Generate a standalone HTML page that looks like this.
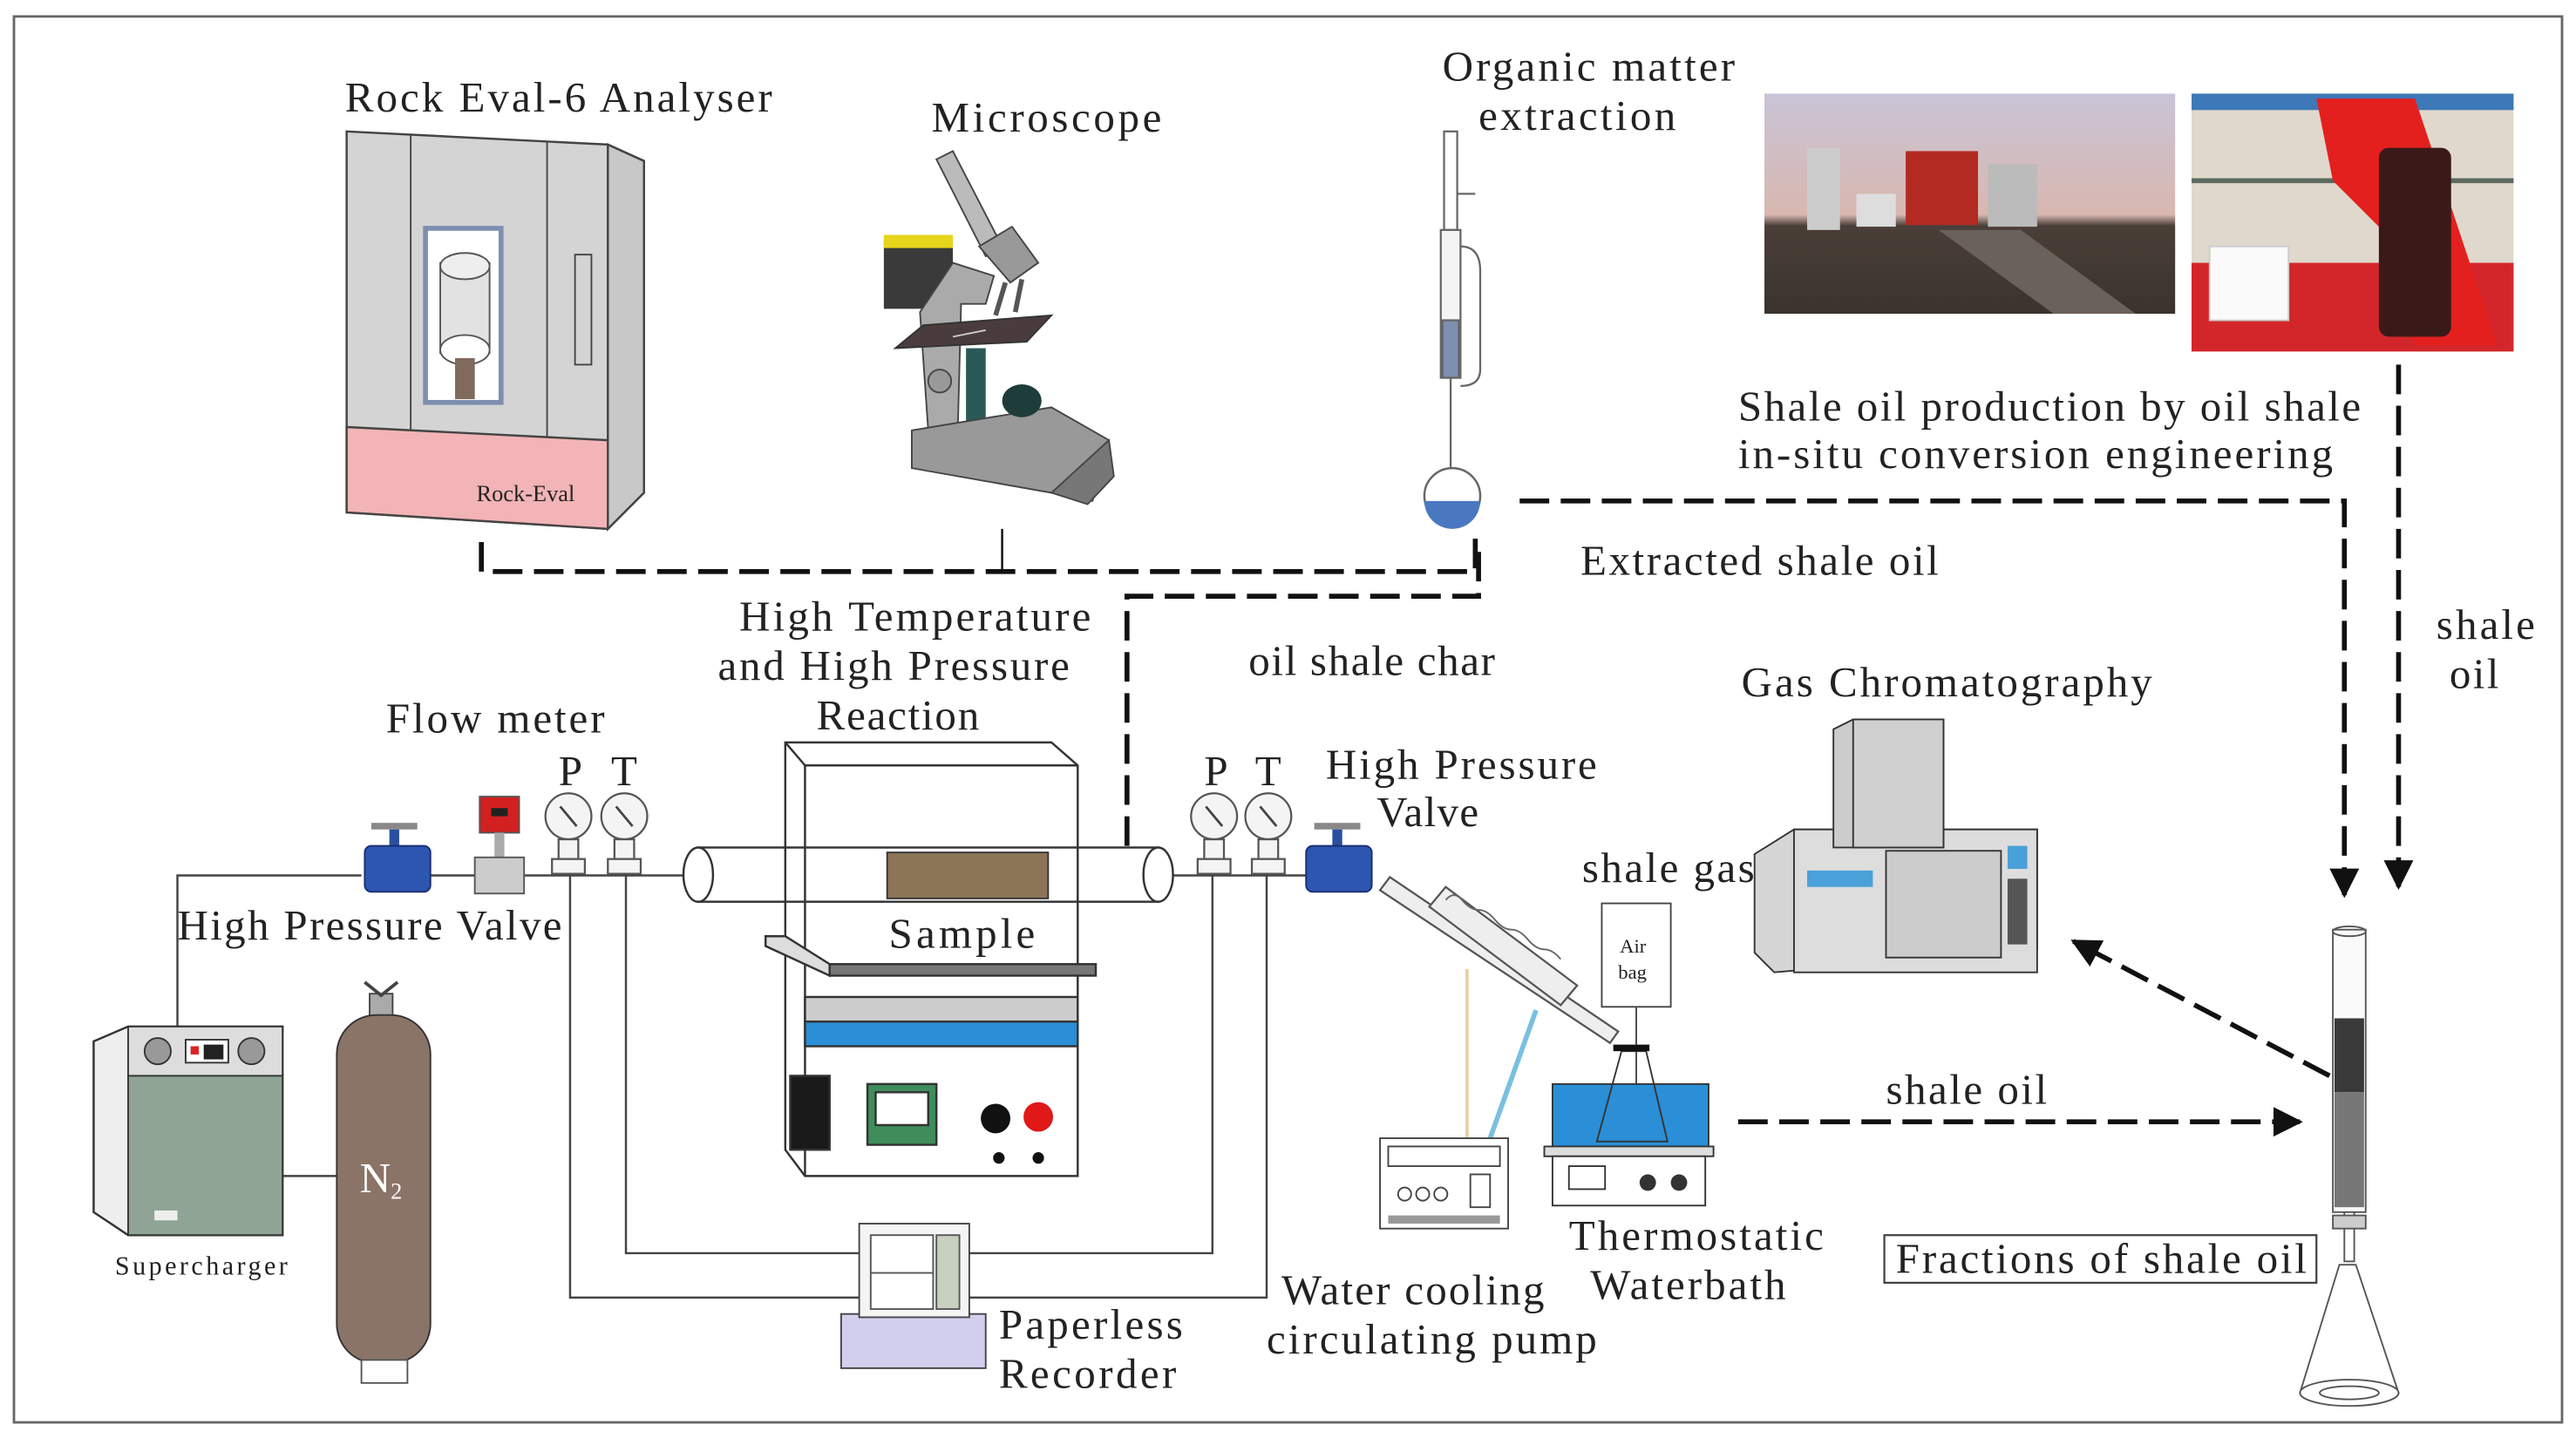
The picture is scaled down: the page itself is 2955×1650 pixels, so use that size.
<!DOCTYPE html>
<html><head><meta charset="utf-8"><style>
html,body{margin:0;padding:0;background:#fff;}
svg{display:block;}
text{font-family:"Liberation Serif",serif;fill:#222;}
</style></head><body>
<svg width="2955" height="1650" viewBox="0 0 1568 875.5" xmlns="http://www.w3.org/2000/svg">
<defs>
<marker id="ah" viewBox="0 0 10 10" refX="9" refY="5" markerWidth="6" markerHeight="6" orient="auto" markerUnits="strokeWidth"><path d="M0,0 L10,5 L0,10 z" fill="#111"/></marker>
<linearGradient id="sky" x1="0" y1="0" x2="0" y2="1"><stop offset="0" stop-color="#c9c4d6"/><stop offset="0.55" stop-color="#d8b7b0"/><stop offset="0.6" stop-color="#4a3f38"/><stop offset="1" stop-color="#3a332c"/></linearGradient>
</defs>
<rect x="0" y="0" width="1568" height="875.5" fill="#fff"/>
<rect x="8.5" y="10" width="1551" height="856" fill="none" stroke="#666" stroke-width="1.5"/>

<!-- Rock Eval -->
<polygon points="211,80 370,88 392,98 392,300 370,322 211,312" fill="#d4d4d4" stroke="#444" stroke-width="1.3"/>
<polygon points="370,88 392,98 392,300 370,322" fill="#c8c8c8" stroke="#444" stroke-width="1.3"/>
<line x1="250" y1="82" x2="250" y2="262" stroke="#444"/>
<line x1="333" y1="86" x2="333" y2="266" stroke="#444"/>
<polygon points="211,260 370,268 370,322 211,312" fill="#f2b4b6" stroke="#444" stroke-width="1.3"/>
<rect x="259" y="139" width="46" height="106" fill="#fff" stroke="#7d8fb0" stroke-width="3"/>
<rect x="268" y="160" width="30" height="55" fill="#e2e2e2" stroke="#555"/>
<ellipse cx="283" cy="162" rx="15" ry="8" fill="#eee" stroke="#555"/>
<ellipse cx="283" cy="213" rx="15" ry="9" fill="#fff" stroke="#555"/>
<rect x="277" y="218" width="12" height="25" fill="#806a5c"/>
<rect x="350" y="155" width="10" height="67" fill="none" stroke="#444"/>
<text x="290" y="305" font-size="14">Rock-Eval</text>

<!-- Microscope -->
<rect x="538" y="146" width="42" height="42" fill="#3a3a3a"/>
<rect x="538" y="143" width="42" height="8" fill="#e6d51a"/>
<polygon points="570,97 580,92 610,150 600,156" fill="#bbb" stroke="#444"/>
<polygon points="596,150 616,138 632,160 615,172" fill="#999" stroke="#444"/>
<path d="M580,160 L605,168 L600,185 L585,185 L583,262 L565,262 L560,190 Z" fill="#aaa" stroke="#444"/>
<line x1="612" y1="172" x2="606" y2="192" stroke="#555" stroke-width="3"/>
<line x1="622" y1="170" x2="618" y2="190" stroke="#555" stroke-width="3"/>
<polygon points="562,198 640,192 625,208 545,212" fill="#4a3c3c" stroke="#333"/>
<line x1="580" y1="205" x2="600" y2="201" stroke="#ccc"/>
<rect x="588" y="212" width="12" height="46" fill="#2a5a55"/>
<circle cx="572" cy="232" r="7" fill="#999" stroke="#444"/>
<polygon points="555,262 640,248 675,268 665,305 640,300 555,285" fill="#999" stroke="#444"/>
<polygon points="640,300 675,268 678,290 662,307" fill="#777" stroke="#444"/>
<ellipse cx="622" cy="244" rx="12" ry="10" fill="#1e3d3a"/>

<!-- extraction apparatus -->
<g stroke="#666" fill="none" stroke-width="1.2">
<rect x="879" y="80" width="8" height="60"/>
<line x1="887" y1="118" x2="898" y2="118"/>
<rect x="877" y="140" width="12" height="90" fill="#f4f4f4"/>
<path d="M889,150 q12,0 12,15 v60 q0,10 -12,10"/>
<rect x="878" y="195" width="10" height="35" fill="#7e8fb0"/>
<line x1="883" y1="230" x2="883" y2="285"/>
</g>
<circle cx="884" cy="302" r="17" fill="#fff" stroke="#666" stroke-width="1.3"/>
<path d="M867,305 A17,17 0 0 0 901,305 Z" fill="#4a78c0"/>

<!-- photos -->
<rect x="1074" y="57" width="250" height="134" fill="url(#sky)"/>
<rect x="1160" y="92" width="44" height="45" fill="#b32a22"/>
<rect x="1100" y="90" width="20" height="50" fill="#ccc"/>
<rect x="1130" y="118" width="24" height="20" fill="#ddd"/>
<rect x="1210" y="100" width="30" height="38" fill="#bbb"/>
<polygon points="1180,140 1230,140 1300,191 1250,191" fill="#6a625a"/>
<rect x="1334" y="57" width="196" height="157" fill="#e0d8cc"/>
<rect x="1334" y="57" width="196" height="10" fill="#3d78b8"/>
<rect x="1334" y="160" width="196" height="54" fill="#d3262a"/>
<line x1="1334" y1="110" x2="1530" y2="110" stroke="#5c6a60" stroke-width="3"/>
<path d="M1410,60 L1470,60 L1500,150 L1520,210 L1470,210 L1460,150 L1420,110 Z" fill="#e4201e"/>
<rect x="1448" y="90" width="44" height="115" rx="6" fill="#3a1a18"/>
<rect x="1345" y="150" width="48" height="45" fill="#fafafa" stroke="#ccc"/>

<!-- dashed connectors -->
<g stroke="#111" stroke-width="3" fill="none" stroke-dasharray="18,7">
<polyline points="293,330 293,348 898,348 898,325"/>
<polyline points="686,515 686,363 900,363 900,333"/>
<polyline points="925,305 1427,305 1427,545" marker-end="url(#ah)"/>
<polyline points="1460,222 1460,540" marker-end="url(#ah)"/>
<line x1="1418" y1="655" x2="1262" y2="573" marker-end="url(#ah)"/>
<line x1="1058" y1="683" x2="1400" y2="683" marker-end="url(#ah)"/>
</g>
<line x1="610" y1="322" x2="610" y2="348" stroke="#111" stroke-width="1.3"/>

<!-- pipes thin lines -->
<g stroke="#444" stroke-width="1.3" fill="none">
<polyline points="108,625 108,533 220,533"/>
<line x1="262" y1="533" x2="290" y2="533"/>
<line x1="318" y1="533" x2="420" y2="533"/>
<line x1="712" y1="533" x2="800" y2="533"/>
<polyline points="347,533 347,790 525,790"/>
<polyline points="381,533 381,763 525,763"/>
<polyline points="738,533 738,763 590,763"/>
<polyline points="771,533 771,790 590,790"/>
<line x1="172" y1="716" x2="205" y2="716"/>
</g>

<!-- furnace -->
<g stroke="#333" stroke-width="1.3">
<polygon points="478,452 640,452 656,466 656,716 490,716 478,700" fill="#fff"/>
<line x1="478" y1="452" x2="490" y2="466"/>
<line x1="490" y1="466" x2="656" y2="466"/>
<line x1="490" y1="466" x2="490" y2="716"/>
<polygon points="466,570 478,570 505,587 505,594 466,576" fill="#ddd"/>
<rect x="505" y="587" width="162" height="7" fill="#777"/>
<rect x="490" y="607" width="166" height="15" fill="#ccc"/>
<rect x="490" y="622" width="166" height="15" fill="#2a8fd6"/>
<rect x="481" y="655" width="24" height="45" fill="#1a1a1a"/>
<rect x="528" y="660" width="42" height="37" fill="#3f8d5a"/>
<rect x="533" y="665" width="32" height="20" fill="#fff"/>
</g>
<circle cx="606" cy="681" r="9" fill="#111"/>
<circle cx="632" cy="680" r="9" fill="#e01818"/>
<circle cx="608" cy="705" r="3.5" fill="#111"/>
<circle cx="632" cy="705" r="3.5" fill="#111"/>
<!-- tube -->
<rect x="425" y="516" width="280" height="33" fill="none" stroke="#333" stroke-width="1.3"/>
<ellipse cx="425" cy="532.5" rx="9" ry="16.5" fill="#fff" stroke="#333" stroke-width="1.3"/>
<ellipse cx="705" cy="532.5" rx="9" ry="16.5" fill="#fff" stroke="#333" stroke-width="1.3"/>
<rect x="540" y="519" width="98" height="28" fill="#8c7556" stroke="#333"/>

<!-- valves -->
<g>
<rect x="226" y="501" width="28" height="4" fill="#888"/>
<rect x="237" y="505" width="6" height="10" fill="#2a4fa0"/>
<rect x="222" y="515" width="40" height="28" rx="4" fill="#2c56b0" stroke="#1a2e70"/>
<rect x="800" y="501" width="28" height="4" fill="#888"/>
<rect x="811" y="505" width="6" height="10" fill="#2a4fa0"/>
<rect x="795" y="515" width="40" height="28" rx="4" fill="#2c56b0" stroke="#1a2e70"/>
<rect x="292" y="485" width="24" height="22" fill="#d32020" stroke="#555"/>
<rect x="299" y="492" width="10" height="5" fill="#222"/>
<rect x="301" y="507" width="6" height="15" fill="#aaa"/>
<rect x="289" y="522" width="30" height="22" fill="#ccc" stroke="#555"/>
</g>
<!-- gauges -->
<g stroke="#555" stroke-width="1.2" fill="#f4f4f4">
<circle cx="346" cy="497" r="14"/><circle cx="380" cy="497" r="14"/>
<circle cx="739" cy="497" r="14"/><circle cx="772" cy="497" r="14"/>
<rect x="340" y="511" width="12" height="12"/><rect x="374" y="511" width="12" height="12"/>
<rect x="733" y="511" width="12" height="12"/><rect x="766" y="511" width="12" height="12"/>
<rect x="336" y="523" width="20" height="9"/><rect x="370" y="523" width="20" height="9"/>
<rect x="729" y="523" width="20" height="9"/><rect x="762" y="523" width="20" height="9"/>
</g>
<g stroke="#444" stroke-width="1.5"><line x1="341" y1="491" x2="351" y2="503"/><line x1="375" y1="491" x2="385" y2="503"/><line x1="734" y1="491" x2="744" y2="503"/><line x1="767" y1="491" x2="777" y2="503"/></g>

<!-- supercharger -->
<polygon points="57,634 78,625 172,625 172,752 78,752 57,738" fill="#eee" stroke="#333" stroke-width="1.3"/>
<rect x="78" y="625" width="94" height="30" fill="#ddd" stroke="#333"/>
<rect x="78" y="655" width="94" height="97" fill="#8fa494" stroke="#333"/>
<circle cx="96" cy="640" r="8" fill="#999" stroke="#333"/>
<circle cx="153" cy="640" r="8" fill="#999" stroke="#333"/>
<rect x="113" y="633" width="26" height="14" fill="#fff" stroke="#333"/>
<rect x="116" y="637" width="5" height="5" fill="#d22"/>
<rect x="124" y="636" width="12" height="9" fill="#222"/>
<rect x="94" y="737" width="14" height="6" fill="#eee"/>
<!-- N2 cylinder -->
<rect x="225" y="605" width="14" height="14" fill="#aaa" stroke="#444"/>
<path d="M222,598 l10,8 l10,-8" fill="none" stroke="#444" stroke-width="2"/>
<rect x="205" y="618" width="57" height="212" rx="24" fill="#8a7468" stroke="#333"/>
<rect x="220" y="828" width="28" height="14" fill="#fff" stroke="#555"/>
<text x="219" y="726" font-size="26" style="fill:#fff">N<tspan font-size="14" dy="4">2</tspan></text>

<!-- recorder -->
<rect x="512" y="800" width="88" height="33" fill="#d2cfee" stroke="#444"/>
<rect x="523" y="745" width="67" height="57" fill="#f4f4f4" stroke="#444"/>
<rect x="530" y="752" width="38" height="45" fill="#fff" stroke="#555"/>
<rect x="570" y="752" width="14" height="45" fill="#c8d0c0" stroke="#555"/>
<line x1="530" y1="775" x2="568" y2="775" stroke="#555"/>

<!-- condenser -->
<g stroke="#555" stroke-width="1.2" fill="#eee">
<polygon points="840,542 846,534 985,628 980,635"/>
<polygon points="870,552 880,540 960,600 950,612"/>
</g>
<path d="M880,548 q5,-6 10,0 t10,6 t10,6 t10,6 t10,6 t10,6 t10,6" fill="none" stroke="#666"/>
<line x1="893" y1="590" x2="893" y2="693" stroke="#e4d2a8" stroke-width="2"/>
<line x1="935" y1="615" x2="907" y2="693" stroke="#7ac0e0" stroke-width="3"/>
<rect x="975" y="550" width="42" height="63" fill="#fff" stroke="#444"/>
<text x="986" y="580" font-size="12">Air</text><text x="985" y="596" font-size="12">bag</text>
<line x1="996" y1="613" x2="996" y2="695" stroke="#444"/>
<!-- waterbath -->
<rect x="945" y="660" width="95" height="38" fill="#2a8fd6" stroke="#333"/>
<path d="M987,640 L1002,640 L1015,695 L972,695 Z" fill="none" stroke="#333"/>
<rect x="982" y="636" width="22" height="4" fill="#111"/>
<rect x="940" y="698" width="103" height="6" fill="#ddd" stroke="#333"/>
<rect x="945" y="704" width="93" height="30" fill="#fff" stroke="#333"/>
<rect x="955" y="710" width="22" height="14" fill="#fff" stroke="#333"/>
<circle cx="1003" cy="720" r="5" fill="#333"/><circle cx="1022" cy="720" r="5" fill="#333"/>
<!-- pump -->
<rect x="840" y="693" width="78" height="55" fill="#fff" stroke="#444"/>
<rect x="845" y="698" width="68" height="12" fill="none" stroke="#444"/>
<circle cx="855" cy="727" r="4" fill="none" stroke="#444"/><circle cx="866" cy="727" r="4" fill="none" stroke="#444"/><circle cx="877" cy="727" r="4" fill="none" stroke="#444"/>
<rect x="895" y="715" width="12" height="20" fill="none" stroke="#444"/>
<rect x="845" y="740" width="68" height="5" fill="#999"/>

<!-- GC -->
<polygon points="1068,520 1092,505 1240,505 1240,578 1080,592 1068,580" fill="#d6d6d6" stroke="#333"/>
<rect x="1092" y="505" width="148" height="87" fill="#ddd" stroke="#333"/>
<rect x="1148" y="518" width="70" height="65" fill="#ccc" stroke="#333"/>
<rect x="1100" y="530" width="40" height="10" fill="#4aa0d8"/>
<rect x="1222" y="515" width="12" height="14" fill="#4aa0d8"/>
<rect x="1222" y="535" width="12" height="40" fill="#555"/>
<polygon points="1116,444 1128,438 1183,438 1183,516 1116,516" fill="#ccc" stroke="#333"/>
<rect x="1128" y="438" width="55" height="78" fill="#d0d0d0" stroke="#333"/>

<!-- column -->
<rect x="1420" y="566" width="20" height="172" fill="#fafafa" stroke="#555"/>
<ellipse cx="1430" cy="567" rx="10" ry="3" fill="none" stroke="#555"/>
<rect x="1421" y="620" width="18" height="45" fill="#3a3a3a"/>
<rect x="1421" y="665" width="18" height="70" fill="#777"/>
<rect x="1427" y="738" width="6" height="30" fill="#fff" stroke="#555"/>
<rect x="1420" y="740" width="20" height="8" fill="#ccc" stroke="#555"/>
<path d="M1424,770 L1434,770 L1460,848 L1400,848 Z" fill="#fff" stroke="#555"/>
<ellipse cx="1430" cy="848" rx="30" ry="8" fill="#fff" stroke="#555"/>
<ellipse cx="1430" cy="848" rx="18" ry="4" fill="none" stroke="#555"/>
<rect x="1147" y="752" width="263" height="29" fill="none" stroke="#444" stroke-width="1.2"/>

<!-- labels -->
<g font-size="26" lengthAdjust="spacingAndGlyphs">
<text x="210" y="68" textLength="260">Rock Eval-6 Analyser</text>
<text x="567" y="80" textLength="140">Microscope</text>
<text x="878" y="49" textLength="178">Organic matter</text>
<text x="900" y="79" textLength="120">extraction</text>
<text x="1058" y="256" textLength="379">Shale oil production by oil shale</text>
<text x="1058" y="285" textLength="362">in-situ conversion engineering</text>
<text x="962" y="350" textLength="218">Extracted shale oil</text>
<text x="1483" y="389" textLength="60">shale</text>
<text x="1491" y="419" textLength="30">oil</text>
<text x="1060" y="424" textLength="250">Gas Chromatography</text>
<text x="760" y="411" textLength="150">oil shale char</text>
<text x="450" y="384" textLength="214">High Temperature</text>
<text x="437" y="414" textLength="214">and High Pressure</text>
<text x="497" y="444" textLength="99">Reaction</text>
<text x="235" y="446" textLength="133">Flow meter</text>
<text x="340" y="478">P</text><text x="372" y="478">T</text>
<text x="733" y="478">P</text><text x="764" y="478">T</text>
<text x="807" y="474" textLength="165">High Pressure</text>
<text x="838" y="503" textLength="62">Valve</text>
<text x="108" y="572" textLength="234">High Pressure Valve</text>
<text x="541" y="577" textLength="89">Sample</text>
<text x="963" y="537" textLength="105">shale gas</text>
<text x="1148" y="672" textLength="98">shale oil</text>
<text x="608" y="815" textLength="112">Paperless</text>
<text x="608" y="845" textLength="108">Recorder</text>
<text x="780" y="794" textLength="160">Water cooling</text>
<text x="771" y="824" textLength="201">circulating pump</text>
<text x="955" y="761" textLength="155">Thermostatic</text>
<text x="968" y="791" textLength="119">Waterbath</text>
<text x="1154" y="775" textLength="250">Fractions of  shale oil</text>
<text x="70" y="776" font-size="16" textLength="105">Supercharger</text>
</g>
</svg>
</body></html>
